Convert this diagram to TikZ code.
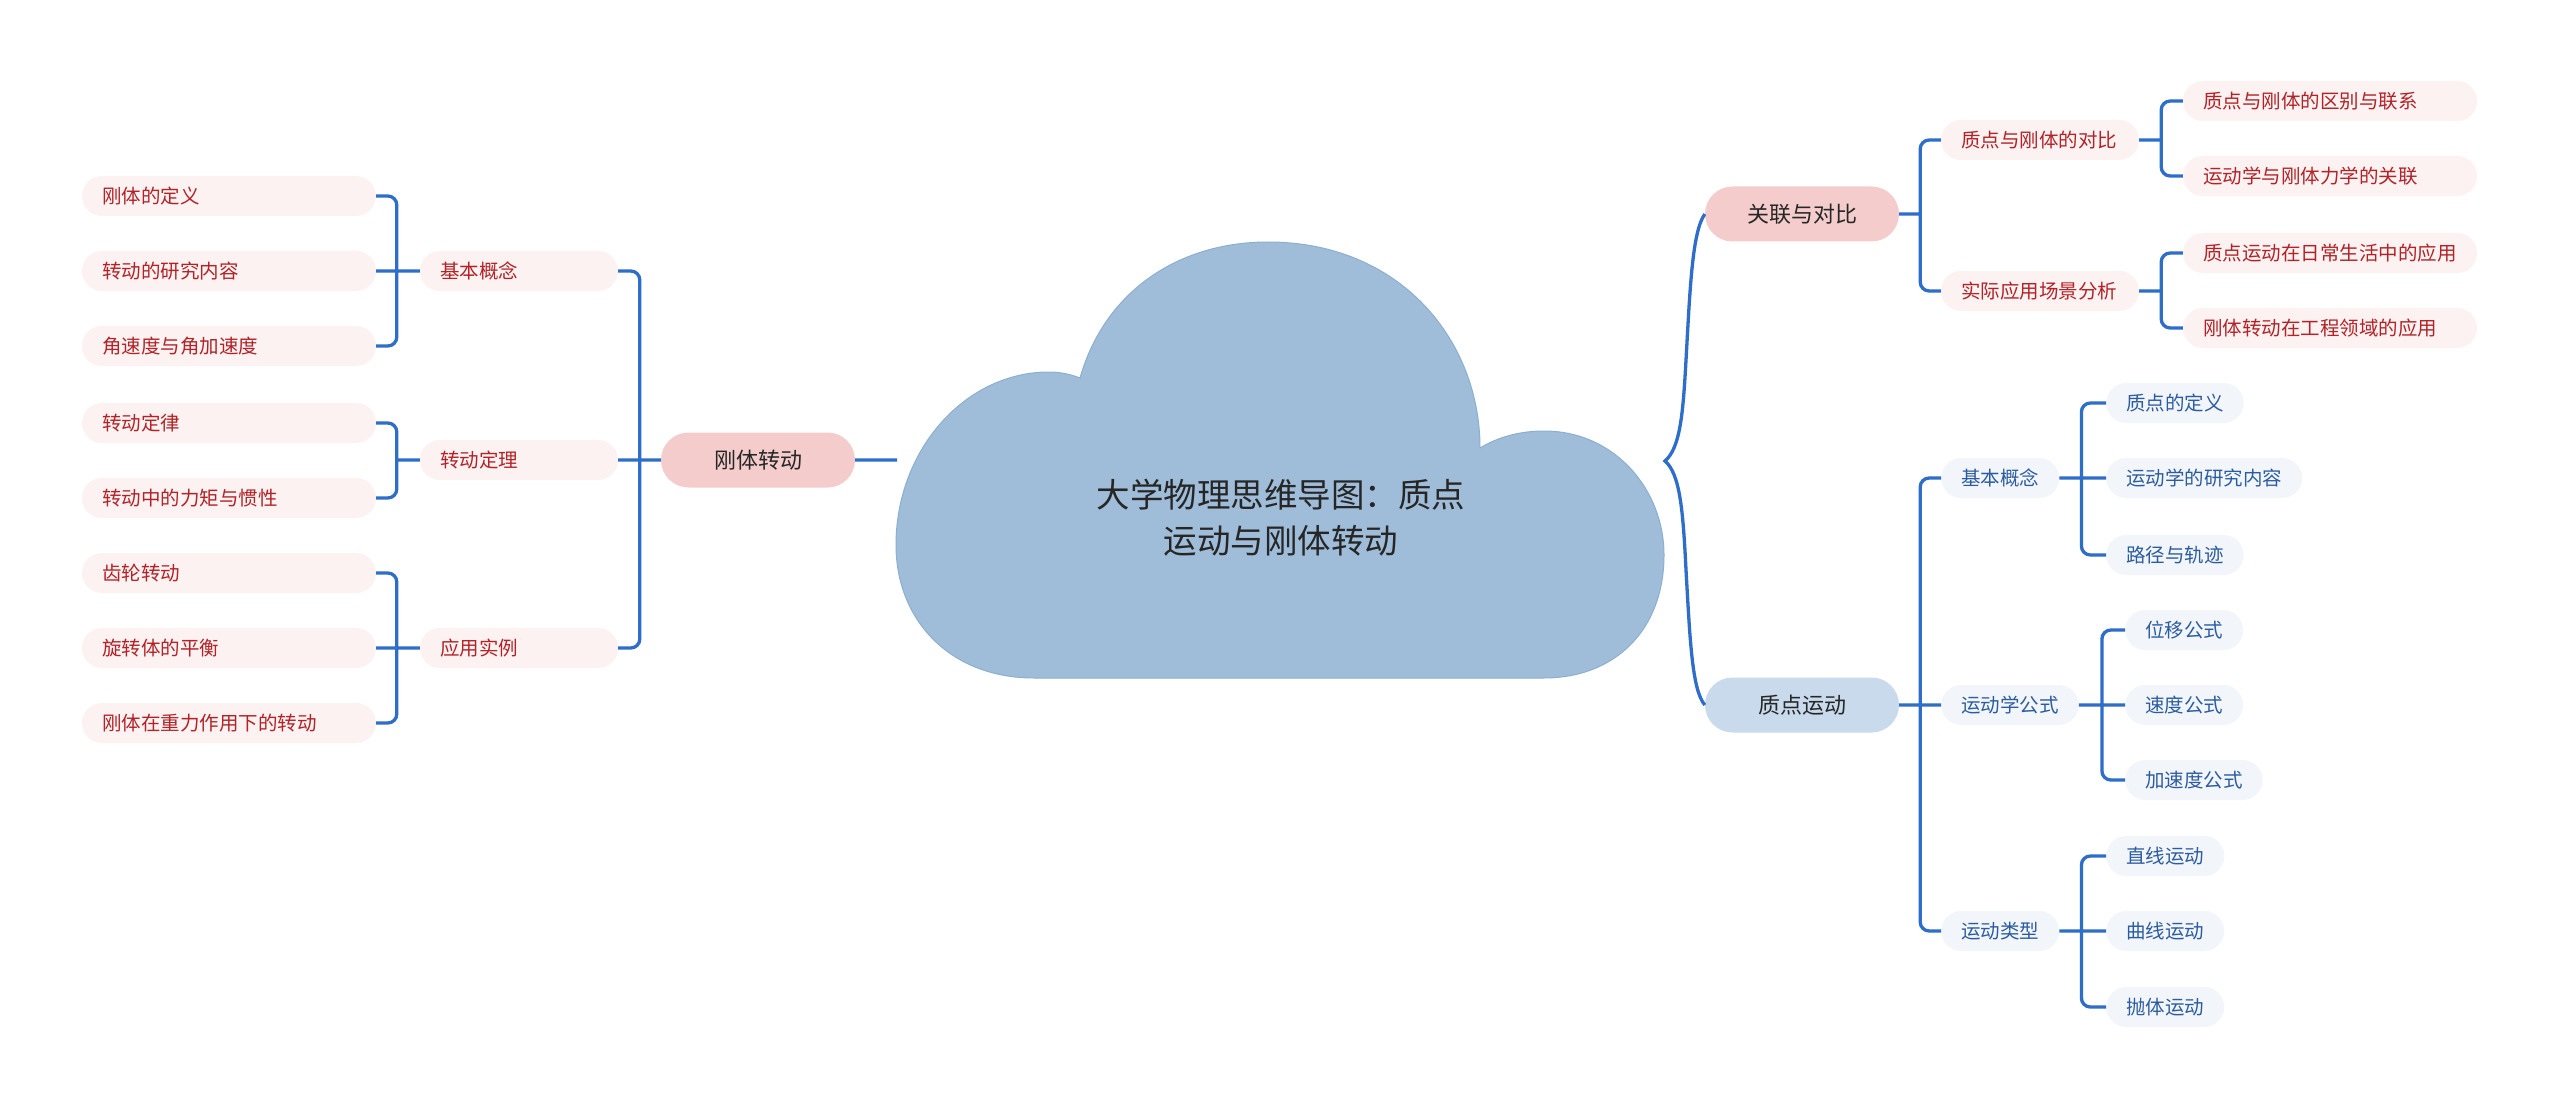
\documentclass[tikz,border=0pt]{standalone}
\usepackage{fontspec}
\setmainfont{Noto Sans CJK SC}
\usetikzlibrary{calc}

\definecolor{linkblue}{RGB}{46,110,200}
\definecolor{cloudblue}{RGB}{159,189,217}
\definecolor{cloudedge}{RGB}{140,175,208}
\definecolor{mainpink}{RGB}{244,204,204}
\definecolor{mainblue}{RGB}{200,218,236}
\definecolor{leafpink}{RGB}{253,242,242}
\definecolor{leafblue}{RGB}{242,246,251}
\definecolor{leafred}{RGB}{178,34,38}
\definecolor{textblue}{RGB}{44,92,160}

\tikzset{
link/.style={draw=linkblue,line width=3.3pt,rounded corners=9pt},
mainred/.style={fill=mainpink,text=black!85,rounded corners=27.5pt,minimum width=194pt,minimum height=55pt,font=\fontsize{22}{26}\selectfont},
mainblue/.style={mainred,fill=mainblue},
redleaf/.style={fill=leafpink,text=leafred,rounded corners=20pt,minimum height=40pt,text width=254pt,align=left,inner xsep=20pt,font=\fontsize{19.5}{23}\selectfont},
redsub/.style={redleaf,text width=158pt},
blueleaf/.style={fill=leafblue,text=textblue,rounded corners=20pt,minimum height=40pt,inner xsep=20pt,anchor=west,font=\fontsize{19.5}{23}\selectfont},
}

\begin{document}
\begin{tikzpicture}[x=1pt,y=-1pt]
\useasboundingbox[fill=white] (0,0) rectangle (2560,1110);
% cloud
\filldraw[fill=cloudblue,draw=cloudedge,line width=1pt] (1034,678)
.. controls (950,678) and (896,620) .. (896,545)
.. controls (896,450) and (965,372) .. (1049,372)
.. controls (1062,372) and (1072,375) .. (1080,378)
.. controls (1105,290) and (1180,242) .. (1268,242)
.. controls (1400,242) and (1480,340) .. (1480,448)
.. controls (1498,437) and (1520,431) .. (1544,431)
.. controls (1615,431) and (1664,490) .. (1664,555)
.. controls (1664,630) and (1615,678) .. (1544,678) -- cycle;
\node[text=black!85,align=center,font=\fontsize{33.5}{46}\selectfont] (0) at (1281,518) {大学物理思维导图：质点\\运动与刚体转动};
\coordinate (cl) at (897,460);
\coordinate (cr) at (1665,461);

% left branch
\path
(758,460) node[mainred] (1) {刚体转动}
+(-239,-189) node[redsub] (2) {基本概念}
+(-239,0)    node[redsub] (3) {转动定理}
+(-239,188)  node[redsub] (4) {应用实例}
(2)
+(-290,-75) node[redleaf] (5) {刚体的定义}
+(-290,0)   node[redleaf] (6) {转动的研究内容}
+(-290,75)  node[redleaf] (7) {角速度与角加速度}
(3)
+(-290,-37) node[redleaf] (8) {转动定律}
+(-290,38)  node[redleaf] (9) {转动中的力矩与惯性}
(4)
+(-290,-75) node[redleaf] (10) {齿轮转动}
+(-290,0)   node[redleaf] (11) {旋转体的平衡}
+(-290,75)  node[redleaf] (12) {刚体在重力作用下的转动}
;

% right branch
\path
(1802,214) node[mainred] (13) {关联与对比}
+(238,-74) node[redsub] (14) {质点与刚体的对比}
+(238,77)  node[redsub] (15) {实际应用场景分析}
(14)
+(290,-39) node[redleaf] (16) {质点与刚体的区别与联系}
+(290,36)  node[redleaf] (17) {运动学与刚体力学的关联}
(15)
+(290,-38) node[redleaf] (18) {质点运动在日常生活中的应用}
+(290,37)  node[redleaf] (19) {刚体转动在工程领域的应用}
(1802,705) node[mainblue] (20) {质点运动}
+(139,-227) node[blueleaf] (21) {基本概念}
+(139,0)    node[blueleaf] (22) {运动学公式}
+(139,226)  node[blueleaf] (23) {运动类型}
(21.west)
+(165,-75) node[blueleaf] (24) {质点的定义}
+(165,0)   node[blueleaf] (25) {运动学的研究内容}
+(165,77)  node[blueleaf] (26) {路径与轨迹}
(22.west)
+(184,-75) node[blueleaf] (27) {位移公式}
+(184,0)   node[blueleaf] (28) {速度公式}
+(184,75)  node[blueleaf] (29) {加速度公式}
(23.west)
+(165,-75) node[blueleaf] (30) {直线运动}
+(165,0)   node[blueleaf] (31) {曲线运动}
+(165,76)  node[blueleaf] (32) {抛体运动}
;

\draw[link] (1.east) -- (cl)
(3.east) -- (1.west) (1.west) ++(-21,0) |- (2.east) (1.west) ++(-21,0) |- (4.east)
(6.east) -- (2.west) (2.west) ++(-23,0) |- (5.east) (2.west) ++(-23,0) |- (7.east)
(3.west) -- ++(-23,0) (3.west) ++(-23,0) |- (8.east) (3.west) ++(-23,0) |- (9.east)
(11.east) -- (4.west) (4.west) ++(-23,0) |- (10.east) (4.west) ++(-23,0) |- (12.east)
;
\draw[link] (13.east) -- ++(21,0) (13.east) ++(21,0) |- (14.west) (13.east) ++(21,0) |- (15.west)
(14.east) -- ++(22,0) (14.east) ++(22,0) |- (16.west) (14.east) ++(22,0) |- (17.west)
(15.east) -- ++(22,0) (15.east) ++(22,0) |- (18.west) (15.east) ++(22,0) |- (19.west)
(20.east) -- (22.west) (20.east) ++(21,0) |- (21.west) (20.east) ++(21,0) |- (23.west)
(21.east) -- (25.west) (21.east) ++(22,0) |- (24.west) (21.east) ++(22,0) |- (26.west)
(22.east) -- (28.west) (22.east) ++(23,0) |- (27.west) (22.east) ++(23,0) |- (29.west)
(23.east) -- (31.west) (23.east) ++(22,0) |- (30.west) (23.east) ++(22,0) |- (32.west)
;
\draw[link,rounded corners=0pt] (13.west) .. controls (1692,232) and (1690,290) .. (1686,360)
.. controls (1683,415) and (1680,448) .. (cr)
.. controls (1680,474) and (1683,510) .. (1686,570)
.. controls (1690,640) and (1692,690) .. (20.west);
\end{tikzpicture}
\end{document}
